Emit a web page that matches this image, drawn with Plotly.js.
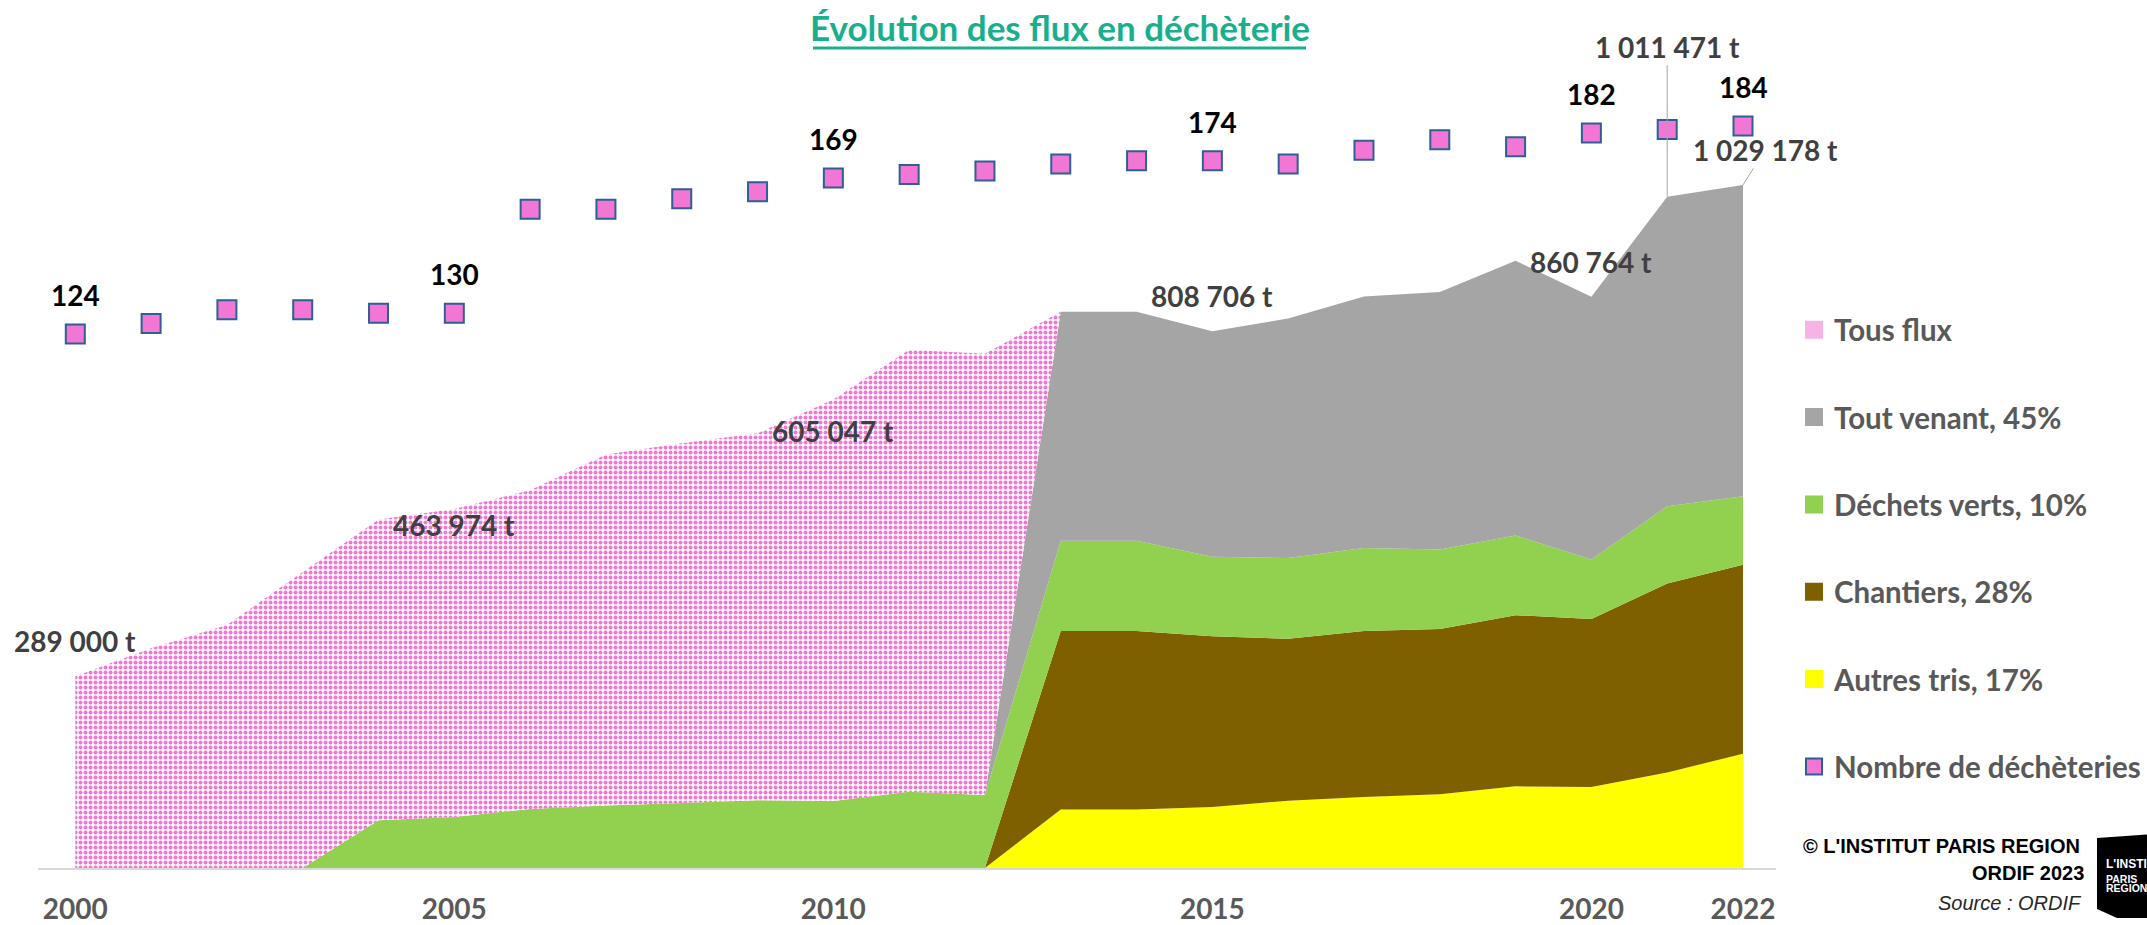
<!DOCTYPE html>
<html>
<head>
<meta charset="utf-8">
<script src="https://cdn.plot.ly/plotly-3.0.1.min.js"></script>
<style>html,body{margin:0;padding:0;background:#fff;}#chart{width:2147px;height:925px;}</style>
</head>
<body>
<div id="chart"></div>
<script>
// ---------- DATA ----------
const years = [2000,2001,2002,2003,2004,2005,2006,2007,2008,2009,2010,2011,2012,2013,2014,2015,2016,2017,2018,2019,2020,2021,2022];
const autresTris   = [0,0,0,0,0,0,0,0,0,0,0,0,0, 88000, 88000, 92000,101500,107000,111000,123000,122000,144000,172000];
const chantiers    = [0,0,0,0,0,0,0,0,0,0,0,0,0,269000,269000,257000,244000,250000,249000,258000,253000,284500,285000];
const dechetsVerts = [0,0,0,0,72000,77000,89000,94000,98000,102000,101000,115000,110000,136000,136000,120000,121500,125000,120000,120000,90000,116500,103000];
const toutVenant   = [0,0,0,0,0,0,0,0,0,0,0,0,0,345000,345000,339706,361000,379000,388000,414000,395764,466471,469178];
const tousFlux     = [289000,331000,366000,446000,453000,463974,480000,529000,542000,553000,605047,666000,665000,0,0,0,0,0,0,0,0,0,0];
const nbDecheteries = [124,127,131,131,130,130,160,160,163,165,169,170,171,173,174,174,173,177,180,178,182,183,184];

const tickYears = [2000,2005,2010,2015,2020,2022];
const tonLabelYears  = [2000,2005,2010,2015,2020,2021,2022];
const tonLabelValues = [289000,463974,605047,808706,860764,1011471,1029178];
const countLabelYears = [2000,2005,2010,2015,2020,2022];

const seriesNames = ['Tous flux','Tout venant, 45%','Déchets verts, 10%','Chantiers, 28%','Autres tris, 17%','Nombre de déchèteries'];
const seriesColors = ['#f276d3','#a5a5a5','#92d050','#7f6000','#ffff00','#f276d3'];

// ---------- LAYOUT GEOMETRY ----------
const W = 2147, H = 925;
const ML = 38, MR = 371, MT = 10, MB = 57;
const PW = W - ML - MR, PH = H - MT - MB;
const PB = H - MB;
const px2x = p => (p - ML) / PW;
const py2y = p => (PB - p) / PH;

const LABEL_FONT = 'Lato, "Open Sans", sans-serif';
const PINK = seriesColors[0];

function fmtT(v){ return String(v).replace(/\B(?=(\d{3})+(?!\d))/g, ' ') + ' t'; }

const areaBase = {x: years, type: 'scatter', mode: 'none', stackgroup: 'flux', hoverinfo: 'x+y', showlegend: false};

const traces = [
  {x: years, y: nbDecheteries, type: 'scatter', mode: 'markers', yaxis: 'y2', name: seriesNames[5],
   legendgroup: 'g6', legendrank: 6,
   marker: {symbol: 'square', size: 19, color: seriesColors[5], line: {color: '#2e6095', width: 2}}},
  Object.assign({}, areaBase, {y: autresTris, name: seriesNames[4], fillcolor: seriesColors[4], legendgroup: 'g5'}),
  Object.assign({}, areaBase, {y: chantiers, name: seriesNames[3], fillcolor: seriesColors[3], legendgroup: 'g4'}),
  Object.assign({}, areaBase, {y: dechetsVerts, name: seriesNames[2], fillcolor: seriesColors[2], legendgroup: 'g3'}),
  Object.assign({}, areaBase, {y: toutVenant, name: seriesNames[1], fillcolor: seriesColors[1], legendgroup: 'g2'}),
  Object.assign({}, areaBase, {y: tousFlux, name: seriesNames[0], fillcolor: PINK, legendgroup: 'g1',
   fillpattern: {shape: '.', fgcolor: PINK, bgcolor: '#ffffff', size: 5, solidity: 0.5, fillmode: 'replace'}})
];
// legend keys (square swatches like the original) for the area series
const legendSwatch = ['#f7b2e6', seriesColors[1], seriesColors[2], seriesColors[3], seriesColors[4]];
for (let i = 0; i < 5; i++) {
  traces.push({x: [null], y: [null], type: 'scatter', mode: 'markers', name: seriesNames[i], hoverinfo: 'skip',
    legendgroup: 'g' + (i + 1), legendrank: i + 1,
    marker: {symbol: 'square', size: 16, color: legendSwatch[i], line: {color: legendSwatch[i], width: 2}}});
}

const annotations = [];
tonLabelYears.forEach((yr, i) => {
  const v = tonLabelValues[i];
  const a = {x: yr, y: v, xref: 'x', yref: 'y', text: fmtT(v),
    font: {family: LABEL_FONT, size: 28, color: '#404040', weight: 'bold'},
    showarrow: false, yshift: 35, xanchor: 'center', yanchor: 'middle'};
  if (yr === 2021) {
    Object.assign(a, {showarrow: true, ax: 0, ay: -150, arrowhead: 0, arrowwidth: 1, arrowcolor: '#a6a6a6', standoff: 0, yshift: 0});
  } else if (yr === 2022) {
    Object.assign(a, {showarrow: true, ax: 22, ay: -35, arrowhead: 0, arrowwidth: 1, arrowcolor: '#a6a6a6', standoff: 0, yshift: 0});
  }
  annotations.push(a);
});
countLabelYears.forEach(yr => {
  const v = nbDecheteries[years.indexOf(yr)];
  annotations.push({x: yr, y: v, xref: 'x', yref: 'y2', text: String(v),
    font: {family: LABEL_FONT, size: 28, color: '#000000', weight: 'bold'},
    showarrow: false, yshift: 39, xanchor: 'center', yanchor: 'middle'});
});
// credits
const creditFont = 'Liberation Sans, Arial, sans-serif';
annotations.push({xref: 'paper', yref: 'paper', x: px2x(2082), y: py2y(846), xanchor: 'right', yanchor: 'middle',
  text: "<b>© L'INSTITUT PARIS REGION</b>", showarrow: false, font: {family: creditFont, size: 20, color: '#000'}});
annotations.push({xref: 'paper', yref: 'paper', x: px2x(2086), y: py2y(872.5), xanchor: 'right', yanchor: 'middle',
  text: '<b>ORDIF 2023</b>', showarrow: false, font: {family: creditFont, size: 20, color: '#000'}});
annotations.push({xref: 'paper', yref: 'paper', x: px2x(2084), y: py2y(903), xanchor: 'right', yanchor: 'middle',
  text: '<i>Source : ORDIF</i>', showarrow: false, font: {family: creditFont, size: 20, color: '#262626'}});
// logo text (only the part visible inside the frame)
const logoFont = '"Liberation Sans Narrow", "Liberation Sans", sans-serif';
annotations.push({xref: 'paper', yref: 'paper', x: px2x(2104), y: py2y(864), xanchor: 'left', yanchor: 'middle',
  text: "<b>L'INSTI</b>", showarrow: false, font: {family: logoFont, size: 12, color: '#fff'}});
annotations.push({xref: 'paper', yref: 'paper', x: px2x(2104), y: py2y(878.5), xanchor: 'left', yanchor: 'middle',
  text: '<b>PARIS</b>', showarrow: false, font: {family: logoFont, size: 10.5, color: '#fff'}});
annotations.push({xref: 'paper', yref: 'paper', x: px2x(2104), y: py2y(888), xanchor: 'left', yanchor: 'middle',
  text: '<b>REGION</b>', showarrow: false, font: {family: logoFont, size: 10.5, color: '#fff'}});

const shapes = [
  {type: 'line', xref: 'paper', yref: 'paper', x0: px2x(813), x1: px2x(1306), y0: py2y(48), y1: py2y(48),
   line: {color: '#1aaf8c', width: 3}},
  {type: 'path', xref: 'paper', yref: 'paper', layer: 'above', fillcolor: '#000', line: {width: 0},
   path: `M ${px2x(2097)} ${py2y(838)} L ${px2x(2170)} ${py2y(833)} L ${px2x(2170)} ${py2y(918)} L ${px2x(2117)} ${py2y(918)} L ${px2x(2097)} ${py2y(909)} Z`}
];

const xPerYear = (1743 - 75.3) / 22;
const layout = {
  width: W, height: H,
  margin: {l: ML, r: MR, t: MT, b: MB, pad: 0, autoexpand: false},
  paper_bgcolor: '#ffffff', plot_bgcolor: '#ffffff',
  showlegend: true,
  title: {text: 'Évolution des flux en déchèterie', x: 1060 / W, xanchor: 'center', y: 1 - 29 / H, yanchor: 'middle',
    font: {family: LABEL_FONT, size: 35, color: '#1aaf8c', weight: 'bold'}},
  xaxis: {type: 'linear', range: [2000 - (75.3 - ML) / xPerYear, 2022 + (W - MR - 1743) / xPerYear],
    tickmode: 'array', tickvals: tickYears, ticktext: tickYears.map(String), ticks: '', automargin: false,
    showgrid: false, zeroline: false, showline: true, linecolor: '#d9d9d9', linewidth: 2,
    tickfont: {family: LABEL_FONT, size: 28, color: '#595959', weight: 'bold'}, ticklabelstandoff: 15},
  yaxis: {range: [0, PH / 663.7e-6], visible: false, showgrid: false, zeroline: false},
  yaxis2: {range: [124 - (PB - 334) / 3.467, 124 + (334 - MT) / 3.467], overlaying: 'y', side: 'right',
    visible: false, showgrid: false, zeroline: false},
  legend: {x: px2x(1794), y: py2y(304), xanchor: 'left', yanchor: 'top', traceorder: 'grouped', tracegroupgap: 46,
    bgcolor: 'rgba(0,0,0,0)', font: {family: LABEL_FONT, size: 29.5, color: '#595959', weight: 'bold'}},
  annotations: annotations,
  shapes: shapes
};

Plotly.newPlot('chart', traces, layout, {displayModeBar: false, staticPlot: true});
</script>
</body>
</html>
